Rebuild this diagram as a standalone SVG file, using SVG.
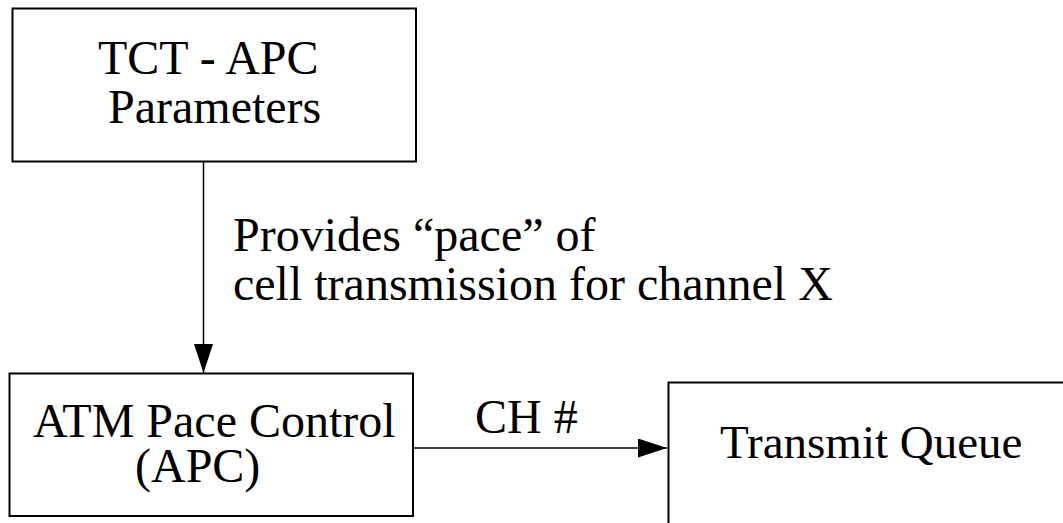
<svg xmlns="http://www.w3.org/2000/svg" width="1063" height="523" viewBox="0 0 1063 523">
<style>
.box{fill:#fff;stroke:#000;stroke-width:2}
.t{font-family:"Liberation Serif",serif;font-size:48px;fill:#000}
.ln{stroke:#000;stroke-width:1.5;fill:none}
</style>
<defs>
<marker id="ah" markerUnits="userSpaceOnUse" markerWidth="30" markerHeight="20" refX="29" refY="9.5" orient="auto">
<path d="M0,0 L29,9.5 L0,19 Z" fill="#000"/>
</marker>
</defs>
<rect width="1063" height="523" fill="#fff"/>
<g id="tct">
<rect class="box" x="12.5" y="8.5" width="403.5" height="153"/>
<text class="t" x="98" y="74">TCT - APC</text>
<text class="t" x="108" y="123">Parameters</text>
</g>
<g id="apc">
<rect class="box" x="9.5" y="373.5" width="403.5" height="142.5"/>
<text class="t" x="33" y="437">ATM Pace Control</text>
<text class="t" x="135" y="482">(APC)</text>
</g>
<g id="tq">
<rect class="box" x="668.5" y="382.5" width="400" height="150"/>
<text class="t" x="720" y="458" style="font-size:47px">Transmit Queue</text>
</g>
<g id="connectors">
<line class="ln" x1="203.5" y1="162" x2="203.5" y2="373" marker-end="url(#ah)"/>
<text class="t" x="233" y="251">Provides “pace” of</text>
<text class="t" x="233" y="300">cell transmission for channel X</text>
<line class="ln" x1="413" y1="448" x2="667" y2="448" marker-end="url(#ah)"/>
<text class="t" x="475" y="433">CH #</text>
</g>
</svg>
